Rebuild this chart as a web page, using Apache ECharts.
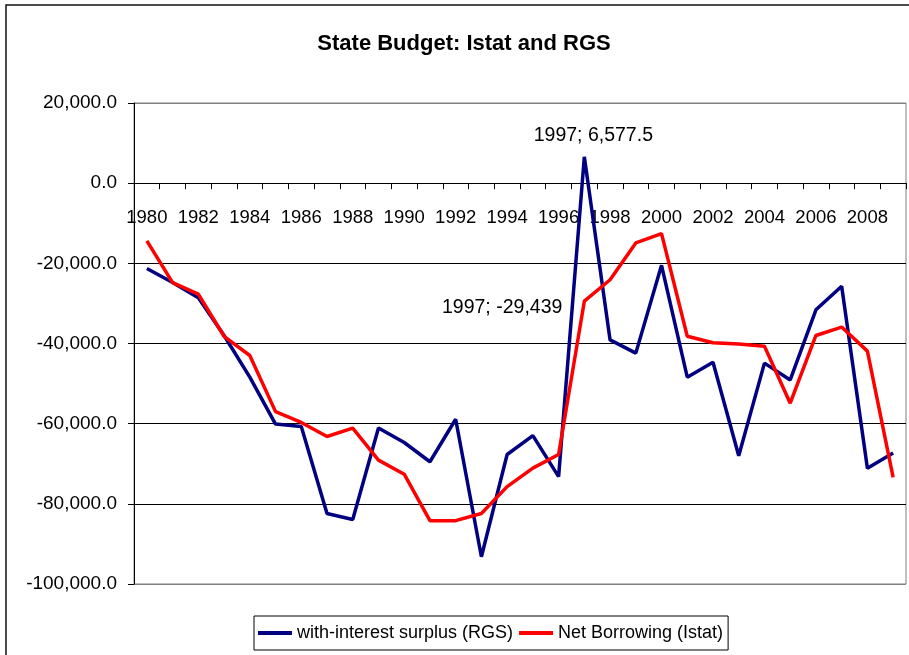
<!DOCTYPE html>
<html>
<head>
<meta charset="utf-8">
<title>State Budget: Istat and RGS</title>
<script src="https://cdn.jsdelivr.net/npm/echarts@6/dist/echarts.min.js"></script>
<style>
  html, body { margin: 0; padding: 0; background: #ffffff; }
  #chart { width: 909px; height: 655px; }
</style>
</head>
<body>
<div id="chart"></div>
<script>
// years on the category axis
var years = [];
for (var y = 1980; y <= 2009; y++) years.push(String(y));

// with-interest surplus (RGS)
var rgs = [-21300, -24800, -28600, -38000, -48400, -60100, -60700, -82400, -83900, -61100,
  -64700, -69500, -58900, -93200, -67700, -63000, -73200, 6577.5, -39100, -42400,
  -20500, -48400, -44700, -68000, -44900, -49100, -31600, -25700, -71100, -67300];

// Net Borrowing (Istat)
var istat = [-14400, -24800, -27700, -38200, -43000, -57000, -59700, -63200, -61100, -69100,
  -72600, -84200, -84200, -82400, -75700, -71100, -67700, -29439, -24100, -14900,
  -12600, -38200, -39800, -40100, -40700, -54900, -38000, -35900, -41900, -73400];

var yTicks = [-100000, -80000, -60000, -40000, -20000, 0, 20000];
var labelYear = "1997";

var font = "'Liberation Sans', Arial, sans-serif";

function fmt(v, d) {
  return v.toLocaleString("en-US", { minimumFractionDigits: d, maximumFractionDigits: d });
}

var chart = echarts.init(document.getElementById("chart"));

// plot area in px, the x axis sits on the 0 line
var gridTop = 103, gridBottom = 71, plotH = 655 - gridTop - gridBottom;
var zeroShift = plotH * (0 - yTicks[0]) / (yTicks[yTicks.length - 1] - yTicks[0]);

var rgsData = rgs.map(function (v, i) {
  if (years[i] !== labelYear) return v;
  return {
    value: v,
    label: {
      show: true, position: "top", distance: 11, offset: [9, 0],
      formatter: function (p) { return p.name + "; " + fmt(p.value, 1); }
    }
  };
});

var istatData = istat.map(function (v, i) {
  if (years[i] !== labelYear) return v;
  return {
    value: v,
    label: {
      show: true, position: "left", distance: 22, offset: [0, 6],
      formatter: function (p) { return p.name + "; " + fmt(p.value, 0); }
    }
  };
});

var option = {
  animation: false,
  textStyle: { fontFamily: font },
  title: {
    text: "State Budget: Istat and RGS",
    left: 459, top: 28, textAlign: "center",
    textStyle: { fontSize: 22, fontWeight: "bold", color: "#000", fontFamily: font }
  },
  graphic: [{
    type: "rect", z: -10,
    shape: { x: 6, y: 5, width: 1000, height: 1000 },
    style: { fill: "none", stroke: "#111", lineWidth: 1.5 }
  }],
  legend: {
    left: 254, top: 616,
    padding: [8, 5, 8, 4],
    itemGap: 6,
    itemWidth: 34, itemHeight: 4,
    icon: "rect",
    borderColor: "#000", borderWidth: 1,
    textStyle: { fontSize: 18, color: "#000", fontFamily: font },
    data: ["with-interest surplus (RGS)", "Net Borrowing (Istat)"]
  },
  grid: {
    left: 134, right: 3, top: gridTop, bottom: gridBottom,
    show: true, borderColor: "#808080", borderWidth: 1
  },
  xAxis: {
    type: "category",
    data: years,
    boundaryGap: true,
    offset: -zeroShift,
    axisLine: { onZero: false, lineStyle: { color: "#000", width: 1 } },
    axisTick: { show: true, interval: 0, length: 6, alignWithLabel: false, lineStyle: { color: "#000" } },
    axisLabel: { interval: 1, margin: 25, fontSize: 18.5, color: "#000", fontFamily: font },
    splitLine: { show: false }
  },
  yAxis: {
    type: "value",
    min: yTicks[0], max: yTicks[yTicks.length - 1], interval: 20000,
    axisLine: { show: true, onZero: false, lineStyle: { color: "#000", width: 1 } },
    axisTick: { show: true, length: 6, lineStyle: { color: "#000" } },
    axisLabel: {
      margin: 17, fontSize: 19, color: "#000", fontFamily: font,
      formatter: function (v) { return fmt(v, 1); }
    },
    splitLine: {
      show: true,
      lineStyle: { color: ["#808080", "#000", "#000", "#000", "#000", "#000", "#808080"], width: 1 }
    }
  },
  series: [
    {
      name: "with-interest surplus (RGS)",
      type: "line",
      data: rgsData,
      symbol: "circle", symbolSize: 0, showSymbol: true,
      itemStyle: { color: "#000080" },
      lineStyle: { color: "#000080", width: 3.5 },
      label: { color: "#000", fontSize: 19.5, fontFamily: font },
      z: 3
    },
    {
      name: "Net Borrowing (Istat)",
      type: "line",
      data: istatData,
      symbol: "circle", symbolSize: 0, showSymbol: true,
      itemStyle: { color: "#ff0000" },
      lineStyle: { color: "#ff0000", width: 3.5 },
      label: { color: "#000", fontSize: 19.5, fontFamily: font },
      z: 4
    }
  ]
};

chart.setOption(option);
</script>
</body>
</html>
